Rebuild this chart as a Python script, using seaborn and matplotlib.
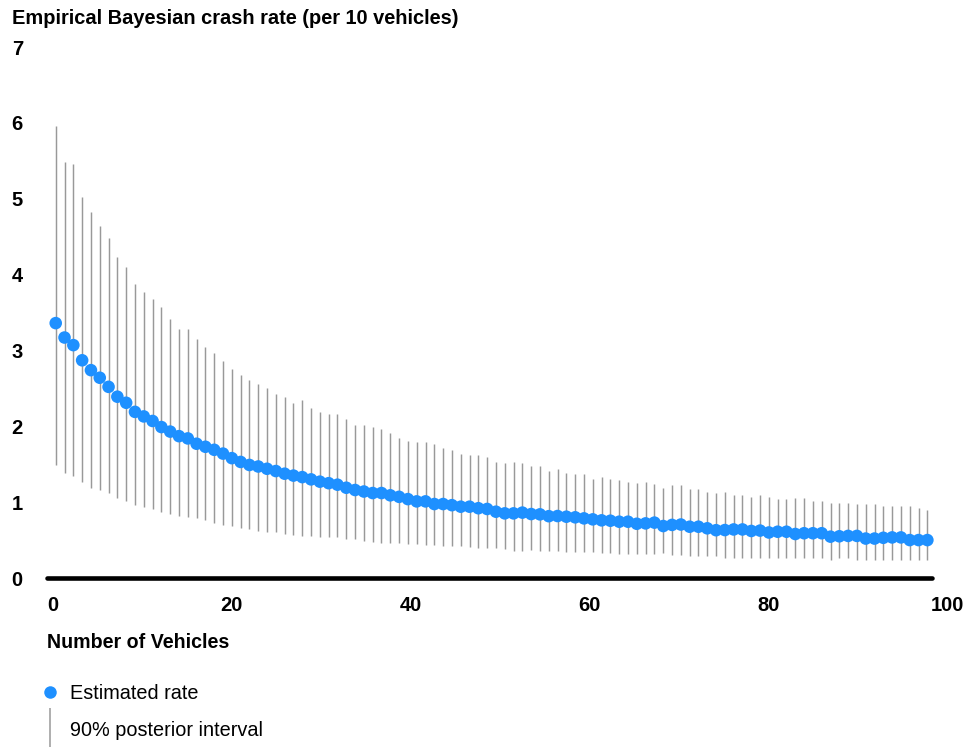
import numpy as np
import matplotlib
matplotlib.use("Agg")
import matplotlib.pyplot as plt
from matplotlib.lines import Line2D
import seaborn as sns

# ---- data ----
vehicles = np.linspace(0.3, 97.8, 100)  # horizontal positions of the 100 estimates

estimate = [
    3.36, 3.17, 3.07, 2.87, 2.74, 2.64, 2.52, 2.39, 2.31, 2.19,
    2.13, 2.07, 1.99, 1.93, 1.87, 1.84, 1.77, 1.73, 1.69, 1.64,
    1.58, 1.53, 1.49, 1.47, 1.44, 1.41, 1.375, 1.35, 1.33, 1.30,
    1.27, 1.25, 1.23, 1.19, 1.16, 1.14, 1.12, 1.12, 1.09, 1.07,
    1.04, 1.01, 1.01, 0.975, 0.975, 0.96, 0.94, 0.94, 0.92, 0.91,
    0.874, 0.852, 0.852, 0.862, 0.843, 0.839, 0.815, 0.817, 0.808, 0.800,
    0.786, 0.773, 0.760, 0.755, 0.742, 0.742, 0.715, 0.72, 0.73, 0.685,
    0.70, 0.705, 0.676, 0.676, 0.655, 0.63, 0.632, 0.64, 0.64, 0.62,
    0.625, 0.60, 0.61, 0.61, 0.58, 0.59, 0.59, 0.59, 0.545, 0.55,
    0.555, 0.555, 0.52, 0.52, 0.53, 0.535, 0.535, 0.50, 0.50, 0.50,
]

lower = [
    1.49, 1.39, 1.34, 1.26, 1.18, 1.16, 1.12, 1.06, 1.01, 0.96,
    0.94, 0.91, 0.87, 0.84, 0.82, 0.81, 0.79, 0.76, 0.73, 0.70,
    0.68, 0.66, 0.64, 0.625, 0.61, 0.60, 0.58, 0.57, 0.56, 0.55,
    0.545, 0.54, 0.535, 0.52, 0.51, 0.49, 0.48, 0.465, 0.46, 0.46,
    0.45, 0.45, 0.44, 0.44, 0.425, 0.425, 0.42, 0.41, 0.40, 0.40,
    0.39, 0.38, 0.36, 0.36, 0.37, 0.36, 0.355, 0.355, 0.34, 0.34,
    0.34, 0.34, 0.325, 0.33, 0.315, 0.315, 0.315, 0.31, 0.316, 0.325,
    0.30, 0.30, 0.29, 0.29, 0.29, 0.29, 0.27, 0.27, 0.27, 0.27,
    0.26, 0.27, 0.26, 0.26, 0.26, 0.26, 0.26, 0.26, 0.24, 0.26,
    0.26, 0.24, 0.24, 0.24, 0.24, 0.24, 0.24, 0.24, 0.24, 0.24,
]

upper = [
    5.96, 5.49, 5.46, 5.02, 4.82, 4.64, 4.48, 4.23, 4.10, 3.87,
    3.77, 3.68, 3.57, 3.42, 3.28, 3.28, 3.15, 3.05, 2.96, 2.86,
    2.76, 2.68, 2.61, 2.56, 2.51, 2.43, 2.39, 2.31, 2.34, 2.24,
    2.19, 2.16, 2.16, 2.09, 2.02, 2.02, 1.99, 1.96, 1.91, 1.84,
    1.81, 1.79, 1.79, 1.77, 1.71, 1.69, 1.64, 1.62, 1.62, 1.59,
    1.53, 1.51, 1.53, 1.51, 1.47, 1.47, 1.41, 1.44, 1.39, 1.37,
    1.37, 1.31, 1.33, 1.31, 1.29, 1.27, 1.25, 1.27, 1.24, 1.19,
    1.22, 1.22, 1.17, 1.17, 1.14, 1.12, 1.14, 1.09, 1.09, 1.07,
    1.09, 1.07, 1.045, 1.045, 1.05, 1.05, 1.02, 1.02, 0.99, 0.99,
    0.99, 0.97, 0.97, 0.97, 0.95, 0.95, 0.95, 0.95, 0.92, 0.90,
]

x_ticks = [0, 20, 40, 60, 80, 100]
y_ticks = [0, 1, 2, 3, 4, 5, 6, 7]

title = "Empirical Bayesian crash rate (per 10 vehicles)"
x_label = "Number of Vehicles"
legend_labels = ["Estimated rate", "90% posterior interval"]

# ---- style ----
sns.set_style("white")
plt.rcParams["font.family"] = ["Liberation Sans", "DejaVu Sans"]
plt.rcParams["text.color"] = "black"
plt.rcParams["xtick.color"] = "black"
plt.rcParams["ytick.color"] = "black"

BLUE = "#1e90ff"
GREY = "#999999"

W, H = 978, 747
fig = plt.figure(figsize=(W / 100, H / 100), dpi=100)
ax = fig.add_axes([45 / W, 169 / H, 906.5 / W, 531 / H])

# intervals
ax.vlines(vehicles, lower, upper, color=GREY, lw=1.05, zorder=1)
# estimates
sns.scatterplot(x=vehicles, y=estimate, color=BLUE, s=82, edgecolor="none",
                ax=ax, zorder=3, legend=False, clip_on=False)

ax.set_xlim(-0.9, 100.5)
ax.set_ylim(0, 7)

# thick baseline
ax.axhline(0, xmin=0.0025, xmax=0.978, color="black", lw=3.3,
           solid_capstyle="round", clip_on=False, zorder=2)

for s in ax.spines.values():
    s.set_visible(False)
ax.grid(False)

ax.set_xticks(x_ticks)
ax.set_xticklabels([str(t) for t in x_ticks], fontsize=14.5, fontweight="bold")
ax.set_yticks(y_ticks)
ax.set_yticklabels([str(t) for t in y_ticks], fontsize=14.5, fontweight="bold")
ax.tick_params(axis="x", length=0, pad=13)
ax.tick_params(axis="y", length=0, pad=24)
for lab in ax.get_yticklabels():
    lab.set_horizontalalignment("left")
ax.set_xlabel("")
ax.set_ylabel("")

fig.text(12 / W, 1 - 18 / H, title, fontsize=14.4, fontweight="bold",
         ha="left", va="center")
fig.text(47 / W, 1 - 643 / H, x_label, fontsize=14.1, fontweight="bold",
         ha="left", va="center")

handles = [
    Line2D([], [], marker="o", color=BLUE, linestyle="none", markersize=9,
           markeredgewidth=0),
    Line2D([], [], marker="|", color=GREY, linestyle="none", markersize=30,
           markeredgewidth=1.1),
]
fig.legend(handles, legend_labels, loc="upper left",
           bbox_to_anchor=(40 / W, 1 - 684 / H), bbox_transform=fig.transFigure,
           frameon=False, fontsize=14.3, borderpad=0, borderaxespad=0,
           handlelength=1.0, handletextpad=0.51, labelspacing=0.92)

fig.savefig("out.png", dpi=100)
